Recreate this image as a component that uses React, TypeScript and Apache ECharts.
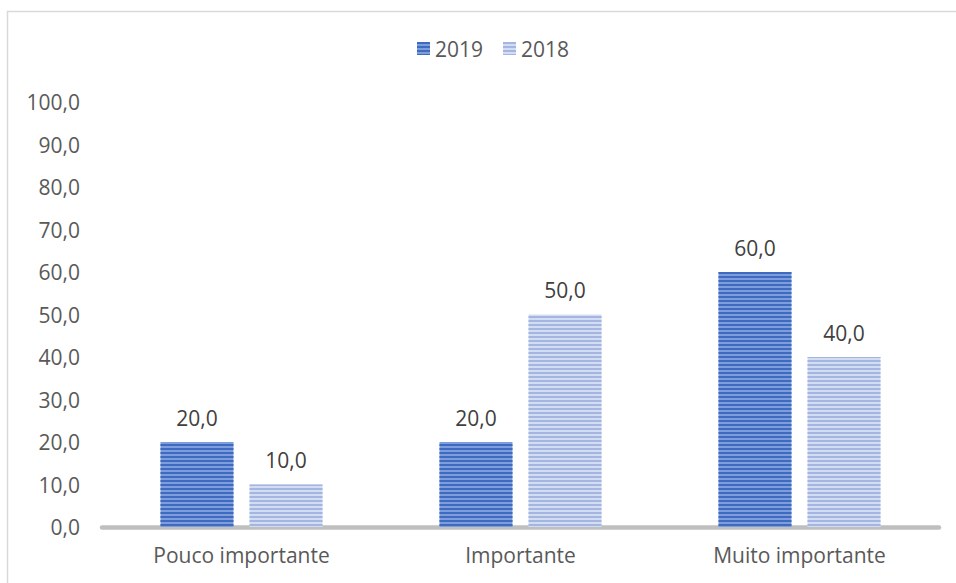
import React, { useEffect, useRef } from "react";
import * as echarts from "echarts";

const categories = ["Pouco importante", "Importante", "Muito importante"];
const seriesNames = ["2019", "2018"];
const values2019 = [20, 20, 60];
const values2018 = [10, 50, 40];

const fmt = (v: number) => v.toFixed(1).replace(".", ",");
const FONT = "Open Sans";
const FS = 21;

export default function App() {
  const ref = useRef<HTMLDivElement>(null);
  useEffect(() => {
    if (!ref.current) return;
    const chart = echarts.init(ref.current, null, { renderer: "svg" });
    const label = {
      show: true,
      position: "top" as const,
      distance: 14,
      color: "#404040",
      fontFamily: FONT,
      fontSize: FS,
      formatter: (p: any) => fmt(p.value),
    };
    chart.setOption({
      animation: false,
      backgroundColor: "#ffffff",
      graphic: [
        {
          type: "rect",
          shape: { x: 7.5, y: 11.5, width: 980, height: 620 },
          style: { fill: "none", stroke: "#d9d9d9", lineWidth: 1.5 },
          silent: true,
        },
      ],
      legend: {
        top: 33,
        left: 412,
        itemWidth: 13,
        itemHeight: 13,
        itemGap: 20,
        icon: "rect",
        textStyle: { color: "#595959", fontFamily: FONT, fontSize: FS },
        data: seriesNames,
      },
      grid: { left: 102, right: 17, top: 102, bottom: 56, containLabel: false },
      xAxis: {
        type: "category",
        data: categories,
        axisLine: { show: true, lineStyle: { color: "#bfbfbf", width: 4.5 } },
        axisTick: { show: false },
        axisLabel: { color: "#595959", fontFamily: FONT, fontSize: FS, margin: 17 },
      },
      yAxis: {
        type: "value",
        min: 0,
        max: 100,
        interval: 10,
        axisLine: { show: false },
        axisTick: { show: false },
        splitLine: { show: false },
        axisLabel: {
          color: "#595959",
          fontFamily: FONT,
          fontSize: FS,
          margin: 22,
          formatter: (v: number) => fmt(v),
        },
      },
      series: [
        {
          name: seriesNames[0],
          type: "bar",
          data: values2019,
          barWidth: 73,
          barGap: "22%",
          label,
          itemStyle: {
            color: "#7d9ddb",
            decal: {
              symbol: "rect",
              symbolSize: 1,
              color: "#3f6ac2",
              dashArrayX: [1, 0],
              dashArrayY: [2, 1.5],
              rotation: 0,
            },
          },
        },
        {
          name: seriesNames[1],
          type: "bar",
          data: values2018,
          barWidth: 73,
          label,
          itemStyle: {
            color: "#d3ddf1",
            decal: {
              symbol: "rect",
              symbolSize: 1,
              color: "#a4b5e1",
              dashArrayX: [1, 0],
              dashArrayY: [2, 1.5],
              rotation: 0,
            },
          },
        },
      ],
    });
    return () => chart.dispose();
  }, []);
  return (
    <div
      ref={ref}
      style={{ position: "absolute", left: 0, top: 0, width: 956, height: 583 }}
    />
  );
}
